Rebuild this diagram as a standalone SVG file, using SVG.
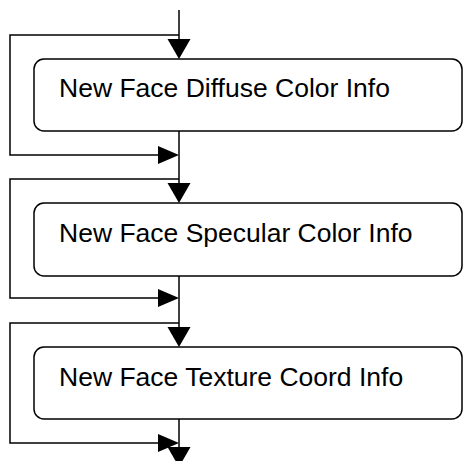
<svg xmlns="http://www.w3.org/2000/svg" width="463" height="461" viewBox="0 0 463 461">
<style>
.ln{fill:none;stroke:#000;stroke-width:1.5}
.box{fill:#fff;stroke:#000;stroke-width:1.5}
.ah{fill:#000;stroke:none}
.t{font-family:"Liberation Sans",Arial,sans-serif;font-size:26.5px;fill:#000}
</style>
<rect width="463" height="461" fill="#fff"/>
<g id="connectors">
<line class="ln" x1="179" y1="10" x2="179" y2="40"/>
<polygon class="ah" points="179,59 167.5,39 190.5,39"/>
<polyline class="ln" points="179,35 10,35 10,155 160,155"/>
<polygon class="ah" points="179,155 158,146 158,164"/>
<line class="ln" x1="179" y1="131" x2="179" y2="185"/>
<polygon class="ah" points="179,203 167.5,183 190.5,183"/>
<polyline class="ln" points="179,179 10,179 10,298 160,298"/>
<polygon class="ah" points="179,298 158,289 158,307"/>
<line class="ln" x1="179" y1="276" x2="179" y2="329"/>
<polygon class="ah" points="179,347 167.5,327 190.5,327"/>
<polyline class="ln" points="179,323 10,323 10,443 160,443"/>
<polygon class="ah" points="179,443 158,434 158,452"/>
<line class="ln" x1="179" y1="419" x2="179" y2="461"/>
<polygon class="ah" points="179,467 167.5,447 190.5,447"/>
</g>
<g id="node1">
<rect class="box" x="34" y="59" width="428" height="72" rx="10"/>
<text class="t" x="59" y="96.5">New Face Diffuse Color Info</text>
</g>
<g id="node2">
<rect class="box" x="34" y="203" width="428" height="73" rx="10"/>
<text class="t" x="59" y="241.5">New Face Specular Color Info</text>
</g>
<g id="node3">
<rect class="box" x="34" y="347" width="428" height="72" rx="10"/>
<text class="t" x="59" y="386">New Face Texture Coord Info</text>
</g>
</svg>
